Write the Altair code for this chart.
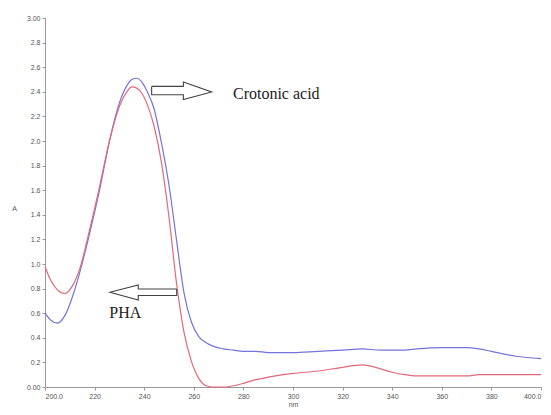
import altair as alt
import pandas as pd

wavelength = [200, 202, 205, 208, 211, 214, 218, 222, 226, 230, 233, 235, 237, 239, 241,
              244, 247, 250, 253, 256, 259, 262, 265, 268, 272, 276, 280, 285, 290, 300,
              310, 320, 328, 335, 340, 345, 350, 360, 370, 375, 380, 390, 400]
pha = [0.98, 0.88, 0.79, 0.76, 0.82, 0.96, 1.28, 1.63, 2.00, 2.28, 2.40, 2.44, 2.43, 2.39, 2.31,
       2.12, 1.82, 1.38, 0.85, 0.45, 0.21, 0.07, 0.01, 0.00, 0.00, 0.01, 0.03, 0.06, 0.08, 0.11,
       0.13, 0.16, 0.18, 0.15, 0.12, 0.10, 0.09, 0.09, 0.09, 0.10, 0.10, 0.10, 0.10]
crotonic = [0.60, 0.55, 0.52, 0.58, 0.73, 0.93, 1.25, 1.60, 2.00, 2.31, 2.45, 2.50, 2.51, 2.48, 2.41,
            2.26, 1.98, 1.64, 1.20, 0.77, 0.53, 0.41, 0.36, 0.33, 0.31, 0.30, 0.29, 0.29, 0.28, 0.28,
            0.29, 0.30, 0.31, 0.30, 0.30, 0.30, 0.31, 0.32, 0.32, 0.31, 0.29, 0.25, 0.23]

series_names = ["Crotonic acid", "PHA"]
series_colors = ["#7474da", "#e2697a"]

y_ticks = [0.0, 0.2, 0.4, 0.6, 0.8, 1.0, 1.2, 1.4, 1.6, 1.8, 2.0, 2.2, 2.4, 2.6, 2.8, 3.0]
x_ticks = [200, 220, 240, 260, 280, 300, 320, 340, 360, 380, 400]

# annotation arrows (outline polygons, in data units)
arrow_right_x = [243.0, 255.8, 255.8, 267.2, 255.8, 255.8, 243.0, 243.0]
arrow_right_y = [2.444, 2.444, 2.479, 2.398, 2.338, 2.376, 2.376, 2.444]
arrow_left_x = [253.1, 237.6, 237.6, 226.2, 237.6, 237.6, 253.1, 253.1]
arrow_left_y = [0.797, 0.797, 0.830, 0.770, 0.708, 0.744, 0.744, 0.797]

labels_text = ["Crotonic acid", "PHA"]
labels_x = [275.8, 225.9]
labels_y = [2.384, 0.60]

rows = []
for name, vals in zip(series_names, [crotonic, pha]):
    for w, v in zip(wavelength, vals):
        rows.append({"nm": w, "A": v, "series": name})
df = pd.DataFrame(rows)

arrows = []
for aid, xs, ys in [("r", arrow_right_x, arrow_right_y), ("l", arrow_left_x, arrow_left_y)]:
    for i, (x, y) in enumerate(zip(xs, ys)):
        arrows.append({"id": aid, "i": i, "nm": x, "A": y})
arr_df = pd.DataFrame(arrows)

lab_df = pd.DataFrame({"t": labels_text, "nm": labels_x, "A": labels_y})

xscale = alt.Scale(domain=[200, 400], nice=False, zero=False)
yscale = alt.Scale(domain=[0, 3], nice=False)

xaxis = alt.Axis(values=x_ticks, title="nm", grid=False, labelOverlap=False,
                 labelExpr="datum.value == 200 || datum.value == 400 ? format(datum.value, '.1f') : format(datum.value, 'd')",
                 labelFontSize=7, titleFontSize=7, titleFontWeight="normal",
                 labelColor="#555", titleColor="#555", domainColor="#999", tickColor="#999",
                 tickSize=3, labelPadding=2, titlePadding=1, labelFont="Liberation Sans", titleFont="Liberation Sans")
yaxis = alt.Axis(values=y_ticks, title="A", grid=False, labelOverlap=False, labelBound=False,
                 labelExpr="datum.value == 0 || datum.value == 3 ? format(datum.value, '.2f') : format(datum.value, '.1f')",
                 labelFontSize=7, titleFontSize=7, titleFontWeight="normal", titleAngle=0,
                 titleX=-31, titleY=193,
                 labelColor="#555", titleColor="#555", domainColor="#999", tickColor="#999",
                 tickSize=3, labelPadding=2, labelFont="Liberation Sans", titleFont="Liberation Sans")

X = alt.X("nm:Q", scale=xscale, axis=xaxis)
Y = alt.Y("A:Q", scale=yscale, axis=yaxis)

lines = alt.Chart(df).mark_line(strokeWidth=1.2, interpolate="monotone").encode(
    x=X,
    y=Y,
    color=alt.Color("series:N", scale=alt.Scale(domain=series_names, range=series_colors), legend=None),
)

arrow_layer = alt.Chart(arr_df).mark_line(strokeWidth=1.1, color="#444").encode(
    x=X,
    y=Y,
    detail="id:N",
    order="i:Q",
)

text_layer = alt.Chart(lab_df).mark_text(align="left", baseline="middle", font="Liberation Serif",
                                         fontSize=16, color="#222").encode(
    x=X,
    y=Y,
    text="t:N",
)

chart = alt.layer(lines, arrow_layer, text_layer).properties(
    width=496, height=369,
    autosize=alt.AutoSizeParams(type="none"),
    padding={"left": 37, "top": 10, "right": 2, "bottom": 20},
    background="white",
).configure_view(stroke=None)

chart.save("out.html", embed_options={"renderer": "svg", "actions": False})
